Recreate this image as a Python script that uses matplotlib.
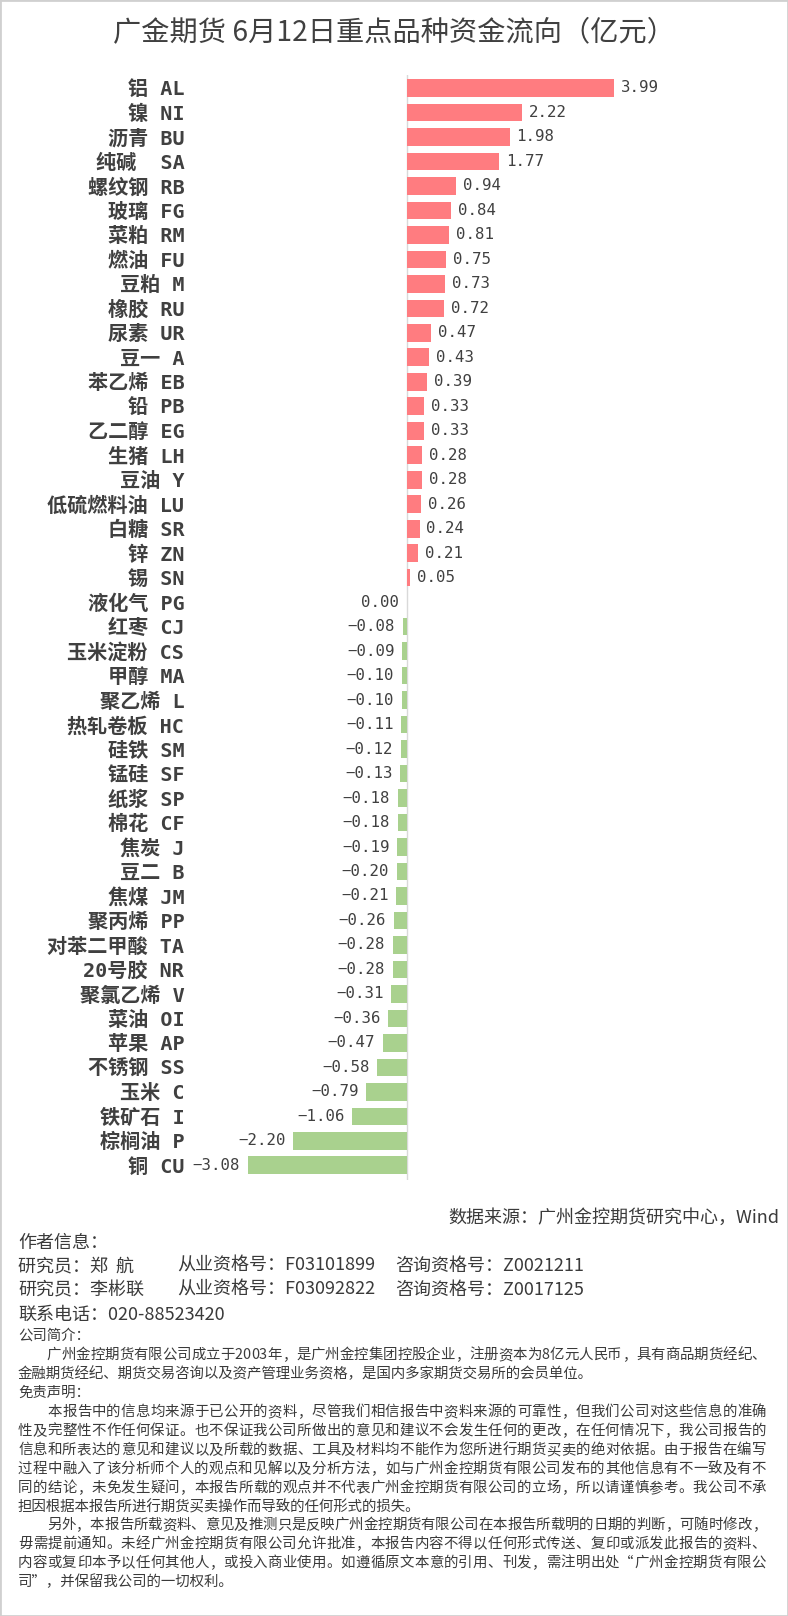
import matplotlib
matplotlib.use("Agg")
import matplotlib.pyplot as plt
from matplotlib.patches import Rectangle
from matplotlib.font_manager import FontProperties

# ---------------- data ----------------
labels = ["铝 AL", "镍 NI", "沥青 BU", "纯碱  SA", "螺纹钢 RB", "玻璃 FG", "菜粕 RM",
          "燃油 FU", "豆粕 M", "橡胶 RU", "尿素 UR", "豆一 A", "苯乙烯 EB", "铅 PB",
          "乙二醇 EG", "生猪 LH", "豆油 Y", "低硫燃料油 LU", "白糖 SR", "锌 ZN", "锡 SN",
          "液化气 PG", "红枣 CJ", "玉米淀粉 CS", "甲醇 MA", "聚乙烯 L", "热轧卷板 HC",
          "硅铁 SM", "锰硅 SF", "纸浆 SP", "棉花 CF", "焦炭 J", "豆二 B", "焦煤 JM",
          "聚丙烯 PP", "对苯二甲酸 TA", "20号胶 NR", "聚氯乙烯 V", "菜油 OI", "苹果 AP",
          "不锈钢 SS", "玉米 C", "铁矿石 I", "棕榈油 P", "铜 CU"]
values = [3.99, 2.22, 1.98, 1.77, 0.94, 0.84, 0.81, 0.75, 0.73, 0.72, 0.47, 0.43,
          0.39, 0.33, 0.33, 0.28, 0.28, 0.26, 0.24, 0.21, 0.05, 0.00, -0.08, -0.09,
          -0.10, -0.10, -0.11, -0.12, -0.13, -0.18, -0.18, -0.19, -0.20, -0.21, -0.26,
          -0.28, -0.28, -0.31, -0.36, -0.47, -0.58, -0.79, -1.06, -2.20, -3.08]

title = "广金期货 6月12日重点品种资金流向（亿元）"
source = "数据来源：广州金控期货研究中心，Wind"
author_head = "作者信息："
author_rows = [("研究员：郑  航", "从业资格号：F03101899", "咨询资格号：Z0021211"),
               ("研究员：李彬联", "从业资格号：F03092822", "咨询资格号：Z0017125")]
phone = "联系电话：020-88523420"
notes = [
    "公司简介：",
    "　　广州金控期货有限公司成立于2003年，是广州金控集团控股企业，注册资本为8亿元人民币，具有商品期货经纪、",
    "金融期货经纪、期货交易咨询以及资产管理业务资格，是国内多家期货交易所的会员单位。",
    "免责声明：",
    "　　本报告中的信息均来源于已公开的资料，尽管我们相信报告中资料来源的可靠性，但我们公司对这些信息的准确",
    "性及完整性不作任何保证。也不保证我公司所做出的意见和建议不会发生任何的更改，在任何情况下，我公司报告的",
    "信息和所表达的意见和建议以及所载的数据、工具及材料均不能作为您所进行期货买卖的绝对依据。由于报告在编写",
    "过程中融入了该分析师个人的观点和见解以及分析方法，如与广州金控期货有限公司发布的其他信息有不一致及有不",
    "同的结论，未免发生疑问，本报告所载的观点并不代表广州金控期货有限公司的立场，所以请谨慎参考。我公司不承",
    "担因根据本报告所进行期货买卖操作而导致的任何形式的损失。",
    "　　另外，本报告所载资料、意见及推测只是反映广州金控期货有限公司在本报告所载明的日期的判断，可随时修改，",
    "毋需提前通知。未经广州金控期货有限公司允许批准，本报告内容不得以任何形式传送、复印或派发此报告的资料、",
    "内容或复印本予以任何其他人，或投入商业使用。如遵循原文本意的引用、刊发，需注明出处“广州金控期货有限公",
    "司”，并保留我公司的一切权利。",
]
justified = [False, True, False, False, True, True, True, True, True, False, True, True, True, False]

# ---------------- style ----------------
CJK = ["Noto Sans CJK SC", "DejaVu Sans"]
LAB = ["DejaVu Sans Mono", "Noto Sans CJK SC"]
plt.rcParams["font.family"] = CJK
POS = "#FF7C80"
NEG = "#A9D18E"
TXT = "#404040"

W, H = 788, 1616
fig = plt.figure(figsize=(W / 100, H / 100), dpi=100)
fig.patch.set_facecolor("white")


def fy(px):
    return 1 - px / H


def fx(px):
    return px / W


ax_top, ax_bot = 75, 1180
ax_left, ax_right = 226, 640
ax = fig.add_axes([fx(ax_left), fy(ax_bot), fx(ax_right) - fx(ax_left), (ax_bot - ax_top) / H])
n = len(values)
ypos = list(range(n))
colors = [POS if v > 0 else NEG for v in values]
ax.barh(ypos, values, height=0.72, color=colors, zorder=2)
ax.set_xlim(-3.5, 4.5)
ax.set_ylim(n - 1 + 0.6, -0.53)
for s in ax.spines.values():
    s.set_visible(False)
ax.axvline(0, color="#D9D9D9", lw=1.0, zorder=1)
ax.set_xticks([])
ax.set_yticks(ypos)
ax.set_yticklabels(labels)
ax.tick_params(axis="y", length=0, pad=30)
for t in ax.get_yticklabels():
    t.set_fontfamily(LAB)
    t.set_fontweight("bold")
    t.set_fontsize(14.5)
    t.set_color(TXT)

for y, v in zip(ypos, values):
    s = f"{v:.2f}".replace("-", "\u2212")
    if v > 0:
        ax.annotate(s, (v, y), xytext=(5, 0), textcoords="offset points",
                    ha="left", va="center", fontsize=11.3, color=TXT,
                    family=["DejaVu Sans Mono"])
    else:
        ax.annotate(s, (v, y), xytext=(-5.5, 0), textcoords="offset points",
                    ha="right", va="center", fontsize=11.3, color=TXT,
                    family=["DejaVu Sans Mono"])

# title
fig.text(fx(394), fy(32), title, ha="center", va="center", fontsize=20.3, color=TXT, family=CJK)

# footer
FT = "#3A3A3A"
fig.text(fx(779), fy(1218), source, ha="right", va="center", fontsize=13, color=FT, family=CJK)
fig.text(fx(18), fy(1243), author_head, ha="left", va="center", fontsize=13, color=FT, family=CJK)
for i, row in enumerate(author_rows):
    yy = fy(1266 + i * 24)
    for xx, seg in zip((18, 177, 395), row):
        fig.text(fx(xx), yy, seg, ha="left", va="center", fontsize=13, color=FT, family=CJK)
fig.text(fx(18), fy(1315), phone, ha="left", va="center", fontsize=13, color=FT, family=CJK)

note_y = [1336, 1355, 1374, 1393, 1412, 1431, 1450, 1469, 1488, 1507, 1525, 1544, 1563, 1582]
renderer = fig.canvas.get_renderer()
NOTE_FS = 10.4
prop = FontProperties(family=CJK, size=NOTE_FS)
x_start, x_end = 18, 766
for yy, line, just in zip(note_y, notes, justified):
    if not just:
        fig.text(fx(x_start), fy(yy), line, ha="left", va="center", fontsize=NOTE_FS,
                 color=FT, family=CJK)
        continue
    widths = [renderer.get_text_width_height_descent(ch, prop, ismath=False)[0]
              if ch.strip() else renderer.get_text_width_height_descent("国", prop, ismath=False)[0]
              for ch in line]
    natural = sum(widths)
    extra = (x_end - x_start - natural) / max(len(line) - 1, 1)
    cx = x_start
    for ch, w in zip(line, widths):
        if ch.strip():
            fig.text(fx(cx), fy(yy), ch, ha="left", va="center", fontsize=NOTE_FS,
                     color=FT, family=CJK)
        cx += w + extra

fig.patches.append(Rectangle((0, 0), 1, 1, transform=fig.transFigure, fill=False,
                             edgecolor="#D0D0D0", lw=2))

fig.savefig("out.png", dpi=100)
